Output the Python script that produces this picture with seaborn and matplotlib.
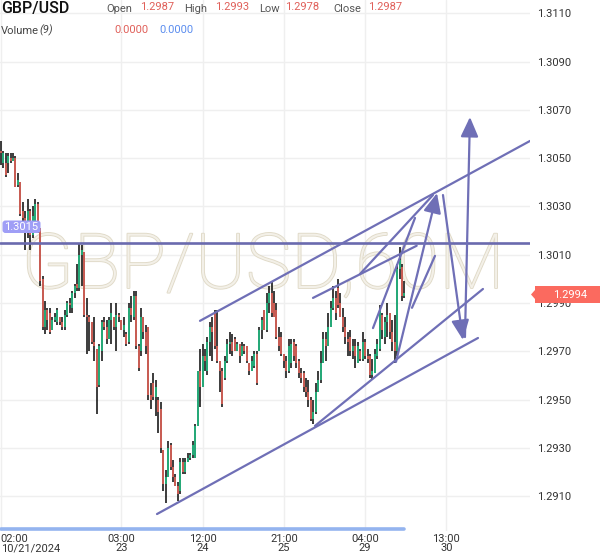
import numpy as np
import pandas as pd
import matplotlib
matplotlib.use("Agg")
import matplotlib.pyplot as plt
import matplotlib.patheffects as pe
from matplotlib.patches import FancyBboxPatch, Polygon
import seaborn as sns

sns.set_style("white")
plt.rcParams['font.family'] = ['Roboto', 'DejaVu Sans']

# ---------------- data (hourly GBP/USD candles, 02:00 10/21 onwards) ----------------
opens = [1.3053, 1.3048, 1.3048, 1.3048, 1.3050, 1.3049, 1.3050, 1.3039, 1.3040, 1.3028,
         1.3025, 1.3020, 1.3028, 1.3018, 1.3024, 1.3031, 1.3021, 1.3000, 1.2980, 1.2987,
         1.2986, 1.2979, 1.2983, 1.2982, 1.2984, 1.2982, 1.2980, 1.2985, 1.2990, 1.2988,
         1.2994, 1.2998, 1.2996, 1.3010, 1.3011, 1.2985, 1.2984, 1.2982, 1.2974, 1.2971,
         1.2956, 1.2970, 1.2982, 1.2980, 1.2975, 1.2983, 1.2984, 1.2980, 1.2985, 1.2983,
         1.2979, 1.2977, 1.2974, 1.2988, 1.2984, 1.2993, 1.2972, 1.2970, 1.2984, 1.2978,
         1.2980, 1.2952, 1.2957, 1.2951, 1.2950, 1.2946, 1.2929, 1.2915, 1.2918, 1.2931,
         1.2922, 1.2918, 1.2914, 1.2912, 1.2924, 1.2920, 1.2924, 1.2926, 1.2927, 1.2926,
         1.2939, 1.2962, 1.2955, 1.2968, 1.2962, 1.2974, 1.2980, 1.2986, 1.2972, 1.2966,
         1.2962, 1.2959, 1.2966, 1.2973, 1.2974, 1.2975, 1.2970, 1.2973, 1.2968, 1.2972,
         1.2972, 1.2965, 1.2962, 1.2964, 1.2969, 1.2970, 1.2979, 1.2987, 1.2979, 1.2990,
         1.2994, 1.2990, 1.2987, 1.2976, 1.2976, 1.2969, 1.2966, 1.2962, 1.2965, 1.2974,
         1.2972, 1.2966, 1.2961, 1.2961, 1.2955, 1.2953, 1.2950, 1.2942, 1.2945, 1.2953,
         1.2958, 1.2965, 1.2975, 1.2972, 1.2980, 1.2988, 1.2992, 1.2996, 1.2990, 1.2984,
         1.2980, 1.2975, 1.2976, 1.2970, 1.2972, 1.2965, 1.2970, 1.2967, 1.2974, 1.2968,
         1.2968, 1.2960, 1.2961, 1.2968, 1.2971, 1.2985, 1.2976, 1.2982, 1.2986, 1.2978,
         1.2974, 1.2970, 1.3004, 1.3005, 1.2993]
highs = [1.3057, 1.3053, 1.3052, 1.3052, 1.3052, 1.3052, 1.3051, 1.3044, 1.3040, 1.3032,
         1.3028, 1.3033, 1.3029, 1.3030, 1.3033, 1.3032, 1.3021, 1.3001, 1.2991, 1.2988,
         1.2988, 1.2984, 1.2986, 1.2988, 1.2984, 1.2984, 1.2987, 1.2991, 1.2992, 1.2995,
         1.2998, 1.3006, 1.3015, 1.3014, 1.3011, 1.2992, 1.2985, 1.2982, 1.2984, 1.2971,
         1.2973, 1.2983, 1.2984, 1.2983, 1.2984, 1.2990, 1.2984, 1.2990, 1.2986, 1.2983,
         1.2984, 1.2978, 1.2990, 1.2993, 1.2995, 1.2995, 1.2973, 1.2988, 1.2984, 1.2981,
         1.2980, 1.2957, 1.2961, 1.2958, 1.2951, 1.2949, 1.2929, 1.2921, 1.2933, 1.2932,
         1.2925, 1.2919, 1.2916, 1.2926, 1.2926, 1.2926, 1.2928, 1.2928, 1.2933, 1.2940,
         1.2962, 1.2971, 1.2973, 1.2971, 1.2976, 1.2982, 1.2984, 1.2987, 1.2987, 1.2966,
         1.2963, 1.2968, 1.2975, 1.2978, 1.2977, 1.2976, 1.2974, 1.2973, 1.2974, 1.2973,
         1.2972, 1.2965, 1.2968, 1.2970, 1.2970, 1.2980, 1.2984, 1.2987, 1.2994, 1.2997,
         1.2999, 1.2995, 1.2990, 1.2980, 1.2978, 1.2969, 1.2968, 1.2975, 1.2975, 1.2975,
         1.2973, 1.2967, 1.2963, 1.2962, 1.2959, 1.2958, 1.2951, 1.2950, 1.2957, 1.2962,
         1.2970, 1.2978, 1.2978, 1.2986, 1.2991, 1.2997, 1.2995, 1.3000, 1.2994, 1.2988,
         1.2984, 1.2978, 1.2979, 1.2975, 1.2975, 1.2974, 1.2971, 1.2978, 1.2975, 1.2971,
         1.2969, 1.2967, 1.2971, 1.2975, 1.2989, 1.2986, 1.2984, 1.2990, 1.2986, 1.2983,
         1.2985, 1.3006, 1.3013, 1.3006, 1.2999]
lows = [1.3047, 1.3046, 1.3042, 1.3044, 1.3048, 1.3049, 1.3038, 1.3038, 1.3026, 1.3024,
        1.3012, 1.3017, 1.3012, 1.3017, 1.3021, 1.3019, 1.2997, 1.2979, 1.2977, 1.2979,
        1.2977, 1.2979, 1.2982, 1.2981, 1.2981, 1.2979, 1.2979, 1.2984, 1.2986, 1.2986,
        1.2992, 1.2995, 1.2995, 1.2997, 1.2984, 1.2969, 1.2970, 1.2973, 1.2966, 1.2944,
        1.2955, 1.2966, 1.2979, 1.2973, 1.2975, 1.2973, 1.2979, 1.2970, 1.2982, 1.2979,
        1.2976, 1.2972, 1.2973, 1.2982, 1.2983, 1.2971, 1.2962, 1.2968, 1.2975, 1.2969,
        1.2950, 1.2946, 1.2950, 1.2943, 1.2936, 1.2928, 1.2912, 1.2907, 1.2918, 1.2921,
        1.2916, 1.2914, 1.2908, 1.2911, 1.2919, 1.2919, 1.2924, 1.2925, 1.2926, 1.2926,
        1.2939, 1.2947, 1.2955, 1.2962, 1.2960, 1.2968, 1.2966, 1.2971, 1.2965, 1.2953,
        1.2947, 1.2958, 1.2965, 1.2969, 1.2968, 1.2970, 1.2970, 1.2965, 1.2968, 1.2969,
        1.2965, 1.2960, 1.2962, 1.2963, 1.2956, 1.2970, 1.2975, 1.2979, 1.2978, 1.2986,
        1.2984, 1.2984, 1.2975, 1.2970, 1.2968, 1.2963, 1.2959, 1.2961, 1.2963, 1.2966,
        1.2963, 1.2959, 1.2957, 1.2953, 1.2951, 1.2947, 1.2941, 1.2940, 1.2944, 1.2953,
        1.2957, 1.2965, 1.2966, 1.2972, 1.2980, 1.2987, 1.2983, 1.2988, 1.2984, 1.2978,
        1.2973, 1.2968, 1.2968, 1.2967, 1.2963, 1.2965, 1.2966, 1.2966, 1.2967, 1.2965,
        1.2959, 1.2958, 1.2961, 1.2967, 1.2970, 1.2975, 1.2973, 1.2976, 1.2975, 1.2970,
        1.2965, 1.2968, 1.3000, 1.2991, 1.2992]
closes = [1.3052, 1.3052, 1.3043, 1.3051, 1.3049, 1.3050, 1.3038, 1.3041, 1.3027, 1.3025,
          1.3020, 1.3028, 1.3018, 1.3026, 1.3031, 1.3022, 1.2999, 1.2980, 1.2987, 1.2983,
          1.2978, 1.2983, 1.2984, 1.2987, 1.2982, 1.2980, 1.2985, 1.2990, 1.2989, 1.2994,
          1.2997, 1.2996, 1.3010, 1.3012, 1.2985, 1.2984, 1.2982, 1.2974, 1.2972, 1.2955,
          1.2972, 1.2982, 1.2980, 1.2975, 1.2983, 1.2986, 1.2980, 1.2985, 1.2984, 1.2979,
          1.2981, 1.2973, 1.2988, 1.2985, 1.2993, 1.2972, 1.2963, 1.2984, 1.2978, 1.2972,
          1.2952, 1.2950, 1.2951, 1.2955, 1.2945, 1.2930, 1.2915, 1.2918, 1.2930, 1.2922,
          1.2918, 1.2914, 1.2911, 1.2924, 1.2920, 1.2924, 1.2926, 1.2927, 1.2931, 1.2939,
          1.2962, 1.2955, 1.2968, 1.2966, 1.2974, 1.2980, 1.2978, 1.2972, 1.2966, 1.2962,
          1.2948, 1.2966, 1.2973, 1.2974, 1.2970, 1.2970, 1.2973, 1.2968, 1.2972, 1.2970,
          1.2966, 1.2962, 1.2966, 1.2969, 1.2957, 1.2979, 1.2983, 1.2979, 1.2990, 1.2994,
          1.2986, 1.2984, 1.2976, 1.2972, 1.2969, 1.2966, 1.2962, 1.2972, 1.2973, 1.2968,
          1.2965, 1.2961, 1.2959, 1.2955, 1.2953, 1.2950, 1.2942, 1.2945, 1.2953, 1.2958,
          1.2965, 1.2975, 1.2972, 1.2980, 1.2988, 1.2992, 1.2986, 1.2989, 1.2984, 1.2980,
          1.2976, 1.2974, 1.2970, 1.2972, 1.2968, 1.2972, 1.2967, 1.2974, 1.2968, 1.2967,
          1.2960, 1.2962, 1.2969, 1.2973, 1.2987, 1.2979, 1.2982, 1.2985, 1.2978, 1.2974,
          1.2970, 1.3004, 1.3008, 1.2993, 1.2994]
volumes = [0.0] * len(closes)   # legend reads Volume 0.0000

x_tick_pos = [0, 49, 82, 115, 148, 181]
x_tick_labels = ["02:00\n10/21/2024", "03:00\n23", "12:00\n24", "21:00\n25", "04:00\n29", "13:00\n30"]
price_ticks = [1.2910, 1.2930, 1.2950, 1.2970, 1.2990, 1.3010, 1.3030, 1.3050, 1.3070, 1.3090, 1.3110]

hline_price = 1.3015
last_price = 1.2994

# drawn trend lines: (x0, y0, x1, y1) in candle index / price
trend_lines = [
    (63.49, 1.29026, 193.87, 1.29755),
    (127.66, 1.29391, 195.89, 1.29958),
    (80.95, 1.29826, 215.0, 1.30571),
    (126.85, 1.29921, 168.97, 1.30137),
    (151.22, 1.29796, 168.28, 1.30252),
    (167.06, 1.29880, 176.40, 1.30095),
    (145.94, 1.30020, 175.59, 1.30347),
]
arrows = [
    (160.56, 1.29656, 177.21, 1.30355),
    (179.65, 1.30347, 187.77, 1.29747),
    (188.58, 1.29759, 190.61, 1.30670),
]

# ---------------- figure ----------------
W, H = 600, 558
fig = plt.figure(figsize=(W / 100, H / 100), dpi=100)
ax = fig.add_axes([0, (H - 531) / H, 530 / W, 531 / H])

df = pd.DataFrame({"i": np.arange(len(closes)), "open": opens, "high": highs,
                   "low": lows, "close": closes, "volume": volumes})
up = df["close"] >= df["open"]

ax.set_xlim(-0.284, 215.0)
ax.set_ylim(1.289557, 1.311547)

# grid
for p in price_ticks:
    ax.axhline(p, color="#efefef", lw=1.0, zorder=0)
for t in x_tick_pos:
    ax.axvline(t, color="#efefef", lw=1.0, zorder=0)

# watermark (behind the candles)
ax.text(263 / 530, 1 - 288 / 531, "GBP/USD,60M", transform=ax.transAxes,
        ha="center", va="baseline", fontsize=55, color="#f3f0e8",
        fontweight="light", zorder=1,
        path_effects=[pe.withStroke(linewidth=1.3, foreground="#e0dac8")])

# candles
ax.vlines(df["i"], df["low"], df["high"], color="#111111", lw=1.15, zorder=3)
ax.vlines(df["i"][up], df["open"][up], df["close"][up], color="#1ec98a", lw=1.1, zorder=4)
ax.vlines(df["i"][~up], df["open"][~up], df["close"][~up], color="#f2665b", lw=1.1, zorder=4)

# volume pane line (zero volume) via seaborn
ax2 = ax.twinx()
sns.lineplot(data=df, x="i", y="volume", ax=ax2, color="#94b4ef", lw=2.6)
ax2.set_ylim(-0.004, 1)
ax2.set_xlim(ax.get_xlim())
ax2.axis("off")
for l in ax2.lines:
    l.set_clip_on(False)

# drawings
line_col = "#6f6fb6"
ax.axhline(hline_price, color="#6a6aae", lw=1.9, zorder=6)
for x0, y0, x1, y1 in trend_lines:
    ax.plot([x0, x1], [y0, y1], color=line_col, lw=1.6, zorder=6, solid_capstyle="round")
for x0, y0, x1, y1 in arrows:
    ax.annotate("", xy=(x1, y1), xytext=(x0, y0), zorder=6,
                arrowprops=dict(arrowstyle="-|>,head_length=1.0,head_width=0.45",
                                color=line_col, lw=1.6, mutation_scale=12,
                                shrinkA=0, shrinkB=0))

# axes styling
for s in ax.spines.values():
    s.set_visible(False)
ax.yaxis.tick_right()
ax.set_yticks(price_ticks)
ax.set_yticklabels([f"{p:.4f}" for p in price_ticks])
ax.tick_params(axis="y", length=0, pad=5, labelsize=8, labelcolor="#333333")
ax.set_xticks(x_tick_pos)
ax.set_xticklabels(x_tick_labels, linespacing=0.95)
ax.tick_params(axis="x", length=0, pad=2, labelsize=8, labelcolor="#333333")
ax.get_xticklabels()[0].set_ha("left")
ax.set_xlabel("")
ax.set_ylabel("")

# legend header
def ft(x, y, s, **kw):
    fig.text(x / W, 1 - y / H, s, va="baseline", ha="left", **kw)

ft(1, 13.3, "GBP/USD", fontsize=11.5, fontweight="medium", color="#111111")
lab_c, val_c = "#555555", "#e0605a"
for lx, lt, vx, vt in [(106, "Open", 140, "1.2987"), (184, "High", 215, "1.2993"),
                       (259, "Low", 285, "1.2978"), (333, "Close", 368, "1.2987")]:
    ft(lx, 12.5, lt, fontsize=8, color=lab_c)
    ft(vx, 9.5, vt, fontsize=8, color=val_c)
ft(1, 33.5, "Volume", fontsize=8, color="#444444")
ft(39, 33.5, "(9)", fontsize=8, color="#444444", style="italic")
ft(114, 33, "0.0000", fontsize=8, color=val_c)
ft(159, 33, "0.0000", fontsize=8, color="#5b8def")

# 1.3015 drawing label
box = FancyBboxPatch((2.5 / W, 1 - 233 / H), 38 / W, 12.5 / H,
                     boxstyle="round,pad=0,rounding_size=0.005",
                     transform=fig.transFigure, fc="#9f9ef6", ec="none", zorder=7)
fig.patches.append(box)
fig.text(21.5 / W, 1 - 226.8 / H, f"{hline_price:.4f}", ha="center", va="center",
         fontsize=8, color="white", zorder=8)

# last price label
pts = [(531, 294.5), (535, 290), (535, 286), (600, 286), (600, 303), (535, 303), (535, 299)]
poly = Polygon([(x / W, 1 - y / H) for x, y in pts], closed=True,
               transform=fig.transFigure, fc="#fb6a5f", ec="none", zorder=7)
fig.patches.append(poly)
fig.text(570 / W, 1 - 294.5 / H, f"{last_price:.4f}", ha="center", va="center",
         fontsize=8, color="white", zorder=8)

fig.savefig("out.png", dpi=100)
